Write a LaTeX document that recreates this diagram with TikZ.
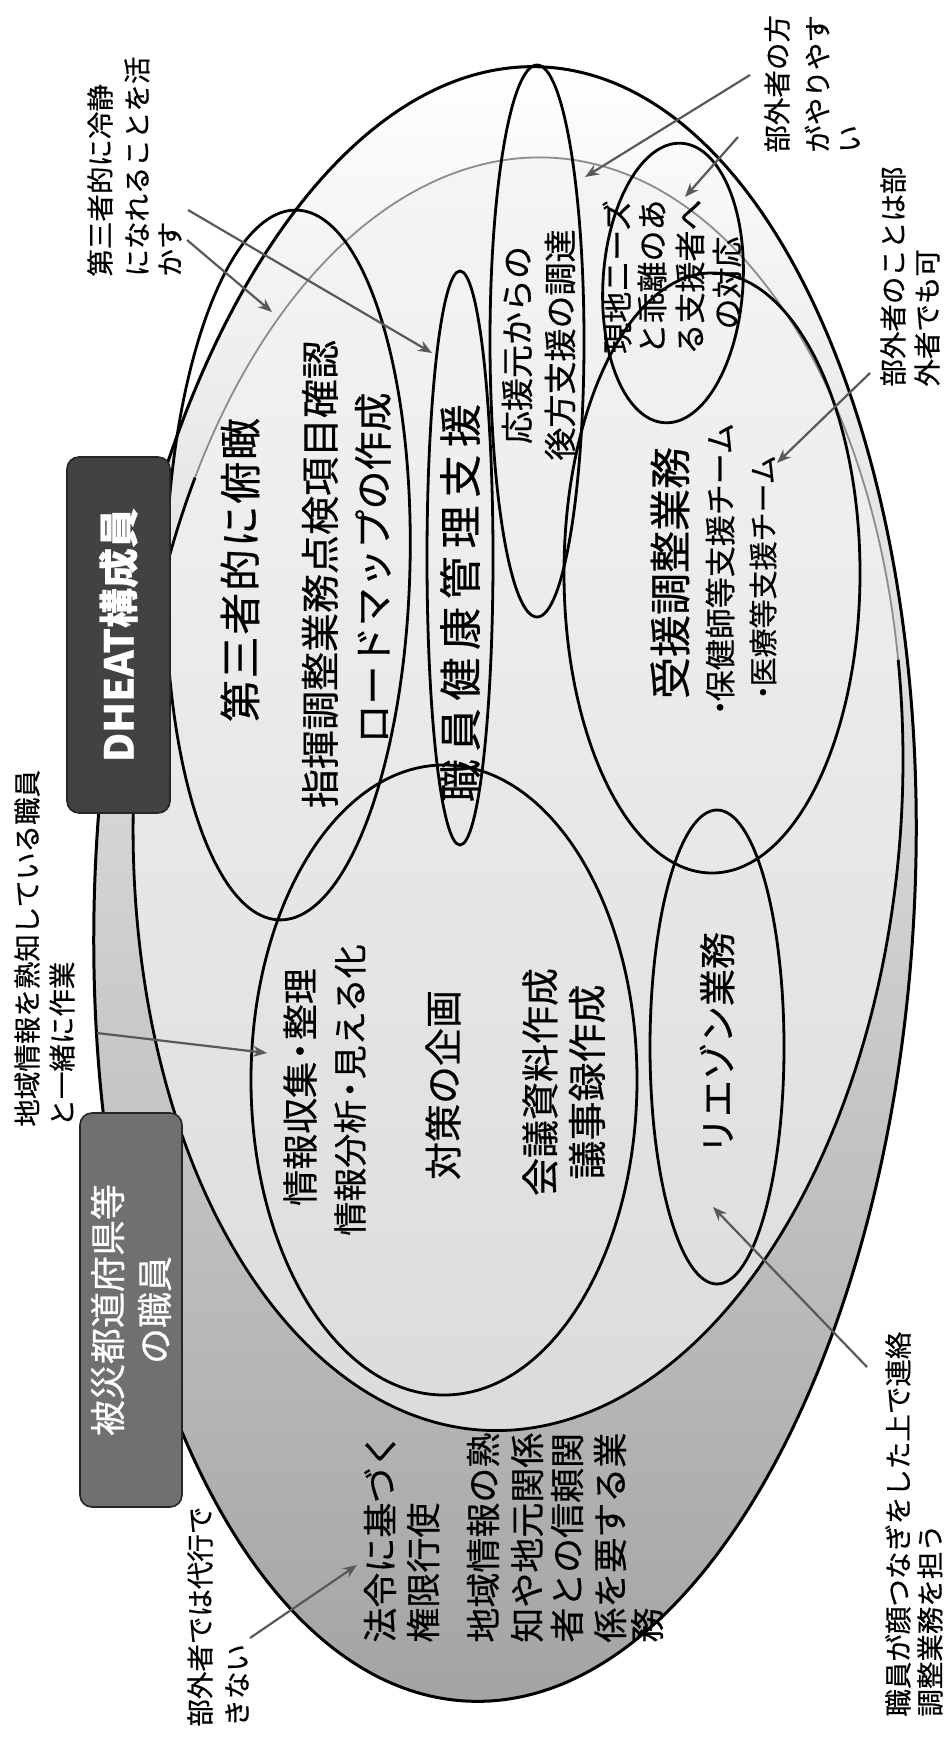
\documentclass[tikz,border=0pt]{standalone}
\usepackage{fontspec}
\setmainfont{Noto Sans CJK JP}[FakeBold=0.5]
\usetikzlibrary{arrows.meta}
\begin{document}
\begin{tikzpicture}[x=0.5pt,y=-0.5pt,
  ell/.style={draw=black, line width=1.4pt},
  arr/.style={draw=black!65, line width=1.1pt, -{Stealth[length=7pt,width=5.5pt]}},
  lab/.style={rotate=90, inner sep=0pt, font=\fontsize{#1pt}{#1pt}\selectfont},
  ann/.style={rotate=90, inner sep=0pt, anchor=west, font=\fontsize{13.75pt}{14pt}\selectfont},
  box/.style={draw=black!85, line width=0.8pt, rounded corners=6pt, rotate=90, inner sep=0pt, text=white}
]
\useasboundingbox (0,0) rectangle (945,1738);

% outer ellipse: prefecture staff
\draw[line width=1.5pt, top color=white, middle color=black!20, bottom color=black!36,
      rotate around={-2.6:(505,884)}] (505,884) ellipse [x radius=410, y radius=818];
% DHEAT ellipse
\path[top color=black!4, bottom color=black!14, rotate around={-3.0:(518,794)}]
      (518,794) ellipse [x radius=384, y radius=637];
\draw[black!45, line width=0.9pt, rotate around={-3.0:(518,794)}]
      (178.9,494.9) arc[start angle=208, end angle=346, x radius=384, y radius=637];
\draw[black, line width=1.4pt, rotate around={-3.0:(518,794)}]
      (890.6,639.9) arc[start angle=346, end angle=568, x radius=384, y radius=637];

% inner ellipses
\draw[ell, rotate around={-1.4:(288,565)}] (288,565) ellipse [x radius=122, y radius=355];
\draw[ell] (460,558) ellipse [x radius=33, y radius=287];
\draw[ell] (537,341) ellipse [x radius=47, y radius=276];
\draw[ell, rotate around={-3.5:(673,283)}] (673,283) ellipse [x radius=70, y radius=140];
\draw[ell] (712,573) ellipse [x radius=148, y radius=300];
\draw[ell] (444,1080) ellipse [x radius=193, y radius=315];
\draw[ell] (717,1047) ellipse [x radius=67, y radius=237];

% boxes
\node (dheat) [box, fill=black!74, minimum width=178pt, minimum height=51.5pt,
      font=\fontsize{20pt}{20pt}\selectfont\bfseries] at (118.5,635) {DHEAT構成員};
\node (pref) [box, fill=black!56, minimum width=197pt, minimum height=51pt, align=center,
      font=\fontsize{18pt}{23.5pt}\selectfont] at (131,1310) {被災都道府県等\\の職員};

% texts inside
\node (t1) [lab=21] at (240,570) {\addfontfeatures{LetterSpace=4}第三者的に俯瞰};
\node (t2) [lab=19.5] at (320,574) {指揮調整業務点検項目確認};
\node (t3) [lab=19.5] at (373,568) {ロードマップの作成};
\node (k1) [lab=21.5] at (460,603) {\addfontfeatures{LetterSpace=18}職員健康管理支援};
\node (n1) [lab=16.5] at (517,345) {応援元からの};
\node (n2) [lab=16.5] at (560,345) {後方支援の調達};
\node (g1) [lab=15.5] at (617,277) {現地ニーズ};
\node (g2) [lab=15.5] at (652,277) {と乖離のあ};
\node (g3) [lab=15.5] at (690,277) {る支援者へ};
\node (g4) [lab=15.5] at (727,283) {の対応};
\node (j1) [lab=21] at (670,573) {受援調整業務};
\node (j2) [lab=15.5] at (720,573) {・\kern-0.3em 保健師等支援チーム};
\node (j3) [lab=14.5] at (763,581) {・\kern-0.3em 医療等支援チーム};
\node (i1) [lab=18] at (300,1087) {情報収集\kern-0.2em・\kern-0.2em 整理};
\node (i2) [lab=17] at (350,1090) {情報分析\kern-0.2em・\kern-0.2em 見える化};
\node (i3) [lab=19] at (443,1085) {対策の企画};
\node (i4) [lab=19] at (540,1082) {会議資料作成};
\node (i5) [lab=19.5] at (587,1082) {議事録作成};
\node (l1) [lab=18.5] at (717,1043) {リエゾン業務};
\node (p1) [lab=17.5, anchor=west] at (380,1643) {法令に基づく};
\node (p2) [lab=17.5, anchor=west] at (423,1643) {権限行使};
\node (p3) [lab=17.5, anchor=west] at (483,1643) {地域情報の熟};
\node (p4) [lab=17.5, anchor=west] at (527,1643) {知や地元関係};
\node (p5) [lab=17.5, anchor=west] at (567,1643) {者との信頼関};
\node (p6) [lab=17.5, anchor=west] at (610,1643) {係を要する業};
\node (p7) [lab=17.5, anchor=west] at (647,1643) {務};

% annotations
\node (c1) [ann] at (100,277) {第三者的に冷静};
\node (c2) [ann] at (137,277) {になれることを活};
\node (c3) [ann] at (170,277) {かす};
\node (o1) [ann] at (777,153) {部外者の方};
\node (o2) [ann] at (817,153) {がやりやす};
\node (o3) [ann] at (850,153) {い};
\node (q1) [ann] at (893,387) {部外者のことは部};
\node (q2) [ann] at (927,387) {外者でも可};
\node (r1) [ann] at (27,1127) {地域情報を熟知している職員};
\node (r2) [ann] at (62,1127) {と一緒に作業};
\node (s1) [ann] at (200,1727) {部外者では代行で};
\node (s2) [ann] at (237,1727) {きない};
\node (u1) [ann] at (898,1717) {職員が顔つなぎをした上で連絡};
\node (u2) [ann] at (930,1717) {調整業務を担う};

% arrows
\coordinate (a1s) at (187,240); \coordinate (a1e) at (272,312);
\coordinate (a2s) at (188,210); \coordinate (a2e) at (432,353);
\coordinate (a3s) at (750,75);  \coordinate (a3e) at (585,177);
\coordinate (a4s) at (738,137); \coordinate (a4e) at (685,197);
\coordinate (a5s) at (870,373); \coordinate (a5e) at (777,463);
\coordinate (a6s) at (97,1033); \coordinate (a6e) at (267,1053);
\coordinate (a7s) at (250,1638); \coordinate (a7e) at (357,1565);
\coordinate (a8s) at (867,1367); \coordinate (a8e) at (713,1207);
\draw[arr] (a1s) -- (a1e);
\draw[arr] (a2s) -- (a2e);
\draw[arr] (a3s) -- (a3e);
\draw[arr] (a4s) -- (a4e);
\draw[arr] (a5s) -- (a5e);
\draw[arr] (a6s) -- (a6e);
\draw[arr] (a7s) -- (a7e);
\draw[arr] (a8s) -- (a8e);
\end{tikzpicture}
\end{document}
